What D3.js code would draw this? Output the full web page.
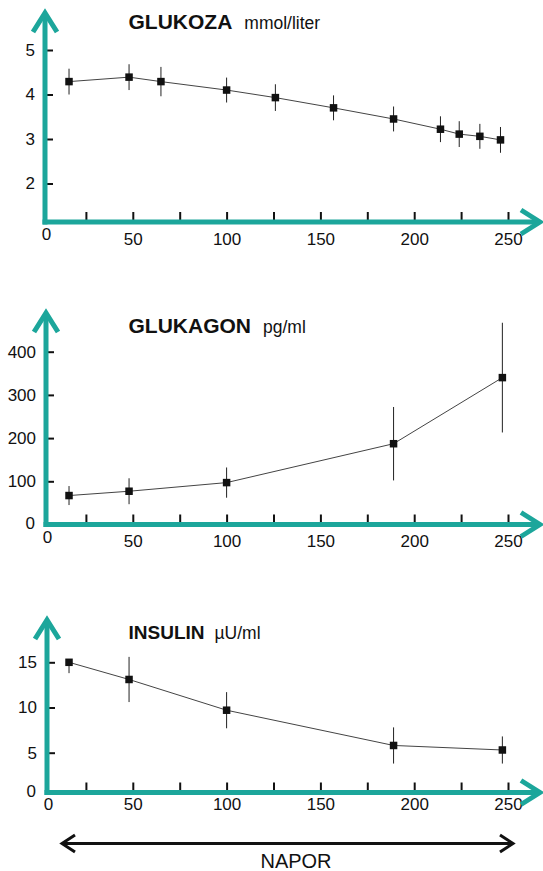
<!DOCTYPE html>
<html>
<head>
<meta charset="utf-8">
<script src="https://cdn.jsdelivr.net/npm/d3@7"></script>
<style>
  body { margin: 0; background: #fff; }
  svg text { font-family: "Liberation Sans", Arial, sans-serif; fill: #111; }
</style>
</head>
<body>
<div id="chart"></div>
<script>
// napor (load) values, shared x for all panels
var loadAll = [16, 48, 65, 100, 126, 157, 189, 214, 224, 235, 246];
var loadFew = [16, 48, 100, 189, 247];

// GLUKOZA mmol/liter
var glukoza = [4.29, 4.39, 4.29, 4.10, 3.93, 3.70, 3.45, 3.22, 3.11, 3.06, 2.98];
var glukozaErr = [0.29, 0.29, 0.33, 0.28, 0.30, 0.28, 0.28, 0.29, 0.29, 0.28, 0.29];

// GLUKAGON pg/ml
var glukagon = [67, 77, 97, 187, 340];
var glukagonErr = [22, 30, 35, 85, 127];

// INSULIN uU/ml
var insulin = [15.0, 13.1, 9.7, 5.8, 5.3];
var insulinErrUp = [0.3, 2.5, 2.0, 2.0, 1.5];
var insulinErrDown = [1.2, 2.5, 2.0, 2.0, 1.5];

// tick values
var xTicks = [25, 50, 75, 100, 125, 150, 175, 200, 225, 250];
var glukozaTicks = [2, 3, 4, 5];
var glukagonTicks = [100, 200, 300, 400];
var insulinTicks = [5, 10, 15];

var svgWidth = 543;
var svgHeight = 871;
var teal = "#1ca69b";
var arrowTipX = 540; // tip of the x axis arrows

var svg = d3.select("#chart")
  .append("svg")
  .attr("width", svgWidth)
  .attr("height", svgHeight);

var xScale = d3.scaleLinear()
  .domain([0, 250])
  .range([39, 508]);

// one entry per panel, layout only
var panels = [
  { title: "GLUKOZA", unit: "mmol/liter", xs: loadAll, ys: glukoza, up: glukozaErr, down: glukozaErr,
    domain: [2, 5], range: [183.5, 50], ticks: glukozaTicks, axisX: 45, axisY: 222, tipY: 13, titleY: 28.5,
    titleSize: 21, unitGap: 12, labelPad: 11, zeroDy: 18, zeroY: false },
  { title: "GLUKAGON", unit: "pg/ml", xs: loadFew, ys: glukagon, up: glukagonErr, down: glukagonErr,
    domain: [0, 400], range: [524.5, 351.7], ticks: glukagonTicks, axisX: 46, axisY: 524.5, tipY: 313, titleY: 333.3,
    titleSize: 21, unitGap: 12, labelPad: 10.5, zeroDy: 18, zeroY: true },
  { title: "INSULIN", unit: "\u00b5U/ml", xs: loadFew, ys: insulin, up: insulinErrUp, down: insulinErrDown,
    domain: [5, 15], range: [752.7, 662.3], ticks: insulinTicks, axisX: 47, axisY: 792.5, tipY: 620, titleY: 638.5,
    titleSize: 19, unitGap: 10, labelPad: 5.5, zeroDy: 17.5, zeroY: true }
];

var line = d3.line()
  .x(d => xScale(d.x))
  .y(d => d.py);

panels.forEach(function (p) {
  var yScale = d3.scaleLinear().domain(p.domain).range(p.range);
  var g = svg.append("g");

  // y ticks (short dashes pointing right) and labels
  var leftAxis = d3.axisLeft(yScale)
    .tickValues(p.ticks)
    .tickSize(-8)
    .tickPadding(10)
    .tickFormat(d3.format("d"));
  var yAxisG = g.append("g")
    .attr("transform", `translate(${p.axisX}, 0)`)
    .call(leftAxis);
  yAxisG.select(".domain").remove();
  yAxisG.selectAll("line").attr("stroke", "#111").attr("stroke-width", 2);
  yAxisG.selectAll("text").style("font-size", "17px").attr("fill", "#111");

  // x ticks (dashes above the axis) and labels every 50
  var bottomAxis = d3.axisBottom(xScale)
    .tickValues(xTicks)
    .tickSize(-10)
    .tickPadding(p.labelPad)
    .tickFormat(d => d % 50 === 0 ? d : "");
  var xAxisG = g.append("g")
    .attr("transform", `translate(0, ${p.axisY})`)
    .call(bottomAxis);
  xAxisG.select(".domain").remove();
  xAxisG.selectAll("line").attr("stroke", "#111").attr("stroke-width", 2);
  xAxisG.selectAll("text").style("font-size", "17px").attr("fill", "#111");

  // zero labels at the corner
  g.append("text")
    .attr("x", p.axisX + 1.5)
    .attr("y", p.axisY + p.zeroDy)
    .attr("text-anchor", "middle")
    .style("font-size", "17px")
    .text("0");
  if (p.zeroY) {
    g.append("text")
      .attr("x", p.axisX - 11)
      .attr("y", p.axisY - 1)
      .attr("dy", "0.35em")
      .attr("text-anchor", "end")
      .style("font-size", "17px")
      .text("0");
  }

  // teal axes with open arrow heads
  g.append("line")
    .attr("x1", p.axisX).attr("y1", p.axisY + 2.5)
    .attr("x2", p.axisX).attr("y2", p.tipY + 2)
    .attr("stroke", teal).attr("stroke-width", 5);
  g.append("line")
    .attr("x1", p.axisX - 2.5).attr("y1", p.axisY)
    .attr("x2", arrowTipX - 2).attr("y2", p.axisY)
    .attr("stroke", teal).attr("stroke-width", 5);
  g.append("path")
    .attr("d", `M${p.axisX - 12},${p.tipY + 19}L${p.axisX},${p.tipY}L${p.axisX + 12},${p.tipY + 19}`)
    .attr("fill", "none").attr("stroke", teal).attr("stroke-width", 5);
  g.append("path")
    .attr("d", `M${arrowTipX - 19},${p.axisY - 12}L${arrowTipX},${p.axisY}L${arrowTipX - 19},${p.axisY + 12}`)
    .attr("fill", "none").attr("stroke", teal).attr("stroke-width", 5);

  // title
  var t = g.append("text")
    .attr("x", 128.5)
    .attr("y", p.titleY);
  t.append("tspan")
    .style("font-size", p.titleSize + "px")
    .style("font-weight", "bold")
    .text(p.title);
  t.append("tspan")
    .attr("dx", p.unitGap)
    .style("font-size", "17.5px")
    .text(p.unit);

  // data
  var pts = p.xs.map(function (x, i) {
    return { x: x, py: yScale(p.ys[i]), hi: yScale(p.ys[i] + p.up[i]), lo: yScale(p.ys[i] - p.down[i]) };
  });

  g.append("path")
    .datum(pts)
    .attr("d", line)
    .attr("fill", "none")
    .attr("stroke", "#444")
    .attr("stroke-width", 1);

  g.selectAll(".err")
    .data(pts)
    .enter()
    .append("line")
    .attr("x1", d => xScale(d.x))
    .attr("x2", d => xScale(d.x))
    .attr("y1", d => d.hi)
    .attr("y2", d => d.lo)
    .attr("stroke", "#222")
    .attr("stroke-width", 1);

  g.selectAll(".mark")
    .data(pts)
    .enter()
    .append("rect")
    .attr("x", d => xScale(d.x) - 3.75)
    .attr("y", d => d.py - 3.75)
    .attr("width", 7.5)
    .attr("height", 7.5)
    .attr("fill", "#111");
});

// NAPOR double arrow
var napor = svg.append("g");
napor.append("line")
  .attr("x1", 63).attr("y1", 843.5)
  .attr("x2", 512).attr("y2", 843.5)
  .attr("stroke", "#111").attr("stroke-width", 2.8);
napor.append("path")
  .attr("d", "M75,835L62,843.5L75,852")
  .attr("fill", "none").attr("stroke", "#111").attr("stroke-width", 3);
napor.append("path")
  .attr("d", "M500,835L513,843.5L500,852")
  .attr("fill", "none").attr("stroke", "#111").attr("stroke-width", 3);
napor.append("text")
  .attr("x", 296)
  .attr("y", 868)
  .attr("text-anchor", "middle")
  .style("font-size", "20px")
  .text("NAPOR");
</script>
</body>
</html>
